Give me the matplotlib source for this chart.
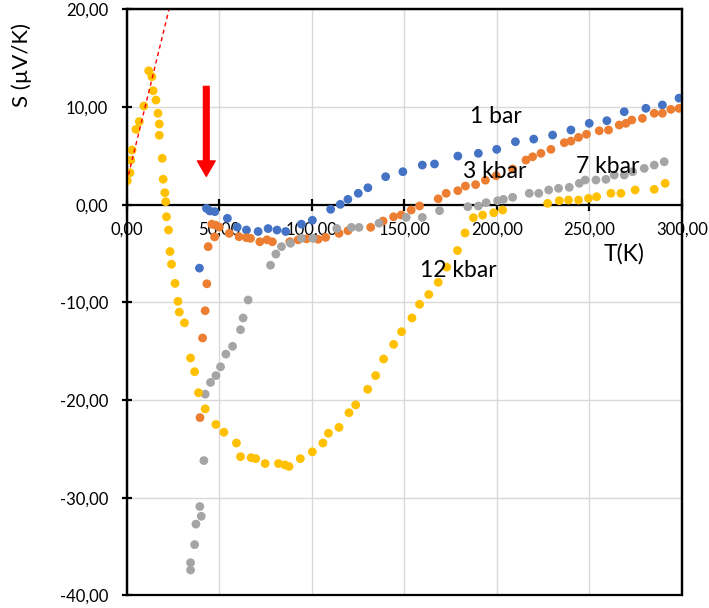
import matplotlib
matplotlib.use("Agg")
import matplotlib.pyplot as plt
from matplotlib.patches import Rectangle, FancyArrowPatch

plt.rcParams['font.family'] = ['Lato', 'DejaVu Sans']

# ---- data (T in K, S in uV/K) ----
t_1bar = [39.3, 43.1, 44.9, 47.6, 54.4, 59.7, 64.7, 71.0, 76.4, 81.2, 85.9, 94.4, 100.3,
          110.2, 115.4, 119.5, 125.1, 130.3, 139.9, 149.2, 159.7, 166.3, 178.9, 190.0,
          199.9, 210.0, 219.9, 230.1, 240.0, 249.9, 259.4, 268.8, 280.5, 289.4, 298.4]
s_1bar = [-6.5, -0.38, -0.65, -0.72, -1.4, -2.3, -2.6, -2.75, -2.45, -2.6, -2.75, -2.0, -1.6,
          -0.48, 0.03, 0.54, 1.16, 1.73, 2.86, 3.37, 4.05, 4.16, 4.97, 5.25,
          5.66, 6.44, 6.71, 7.12, 7.64, 8.32, 8.59, 9.51, 9.86, 10.2, 10.9]

t_3kbar = [39.6, 41.0, 42.4, 43.3, 44.0, 46.0, 48.0, 50.0, 47.5, 55.4, 60.7, 64.7, 66.9,
           71.9, 75.8, 78.7, 88.1, 92.6, 97.1, 103.4, 107.5, 114.7, 119.5, 131.8, 138.5,
           144.2, 148.3, 153.7, 158.2, 168.3, 172.6, 178.9, 183.0, 188.5, 193.8, 199.6,
           208.5, 215.7, 219.3, 223.8, 229.2, 236.4, 240.0, 244.1, 248.4, 255.3, 260.3,
           266.1, 269.7, 272.9, 278.6, 285.0, 289.4, 294.0, 298.4]
s_3kbar = [-21.8, -13.65, -10.86, -8.1, -4.3, -2.0, -2.1, -2.3, -3.3, -2.94, -3.28, -3.39, -3.45,
           -3.8, -3.6, -3.8, -3.8, -3.6, -3.5, -3.55, -3.35, -2.94, -2.67, -2.32, -1.68,
           -1.24, -1.06, -0.55, -0.14, 0.6, 1.16, 1.43, 1.9, 2.05, 2.5, 2.95,
           3.65, 4.56, 4.9, 5.25, 5.66, 6.34, 6.5, 6.88, 7.2, 7.56, 7.64,
           8.15, 8.32, 8.66, 8.83, 9.35, 9.35, 9.75, 9.85]

t_7kbar = [34.5, 34.5, 36.7, 37.4, 40.3, 39.5, 41.7, 42.4, 45.3, 48.2, 50.7, 53.6, 57.2,
           61.5, 62.9, 65.6, 77.7, 80.6, 83.6, 88.5, 94.4, 100.6, 113.5, 121.4, 125.5,
           136.3, 151.0, 159.7, 169.0, 184.3, 190.0, 194.2, 200.4, 203.5, 208.5, 217.5,
           222.6, 228.0, 233.3, 239.1, 244.5, 247.7, 253.5, 258.9, 263.4, 268.8, 273.3,
           279.6, 285.0, 290.4]
s_7kbar = [-37.4, -36.65, -34.8, -32.7, -31.9, -30.9, -26.2, -19.4, -18.2, -17.5, -16.6, -15.3, -14.5,
           -12.8, -11.6, -9.76, -6.2, -5.06, -4.3, -3.96, -3.45, -3.45, -2.44, -2.33, -2.33,
           -1.9, -1.3, -1.3, -0.62, -0.21, -0.14, 0.2, 0.4, 0.54, 0.75, 1.16,
           1.16, 1.5, 1.67, 1.77, 2.18, 2.52, 2.52, 2.59, 3.03, 3.03, 3.37,
           3.71, 4.05, 4.39]

t_12kbar = [0.3, 1.8, 2.2, 2.9, 5.0, 6.8, 9.3, 11.9, 13.6, 14.3, 15.8, 16.9, 17.6, 17.6,
            19.2, 19.7, 20.6, 21.1, 21.5, 22.6, 23.4, 24.2, 26.1, 27.7, 28.4, 31.2, 34.5,
            36.7, 38.8, 42.4, 48.2, 52.5, 59.3, 61.5, 67.2, 69.7, 74.8, 82.0, 85.5, 87.7,
            93.8, 100.3, 106.0, 109.0, 114.7, 120.1, 123.7, 130.2, 134.5, 138.8, 144.2,
            148.5, 154.1, 158.2, 163.2, 168.3, 172.9, 178.7, 182.8, 187.3, 192.3, 198.3,
            203.1, 227.4, 233.7, 238.7, 244.1, 249.5, 253.9, 261.6, 267.0, 274.7, 285.0, 290.9]
s_12kbar = [2.45, 3.27, 4.56, 5.59, 7.7, 8.5, 10.1, 13.7, 13.1, 11.66, 10.7, 9.35, 8.25, 7.1,
            4.74, 2.6, 1.22, 0.3, -1.24, -2.6, -4.8, -6.1, -8.06, -9.9, -11.0, -12.1, -15.7,
            -17.1, -19.25, -20.9, -22.5, -23.3, -24.4, -25.8, -25.9, -26.0, -26.5, -26.5, -26.65, -26.8,
            -26.0, -25.3, -24.4, -23.4, -22.8, -21.3, -20.5, -18.9, -17.5, -15.8, -14.3,
            -13.0, -11.6, -10.2, -9.2, -7.95, -6.4, -4.7, -2.9, -1.34, -1.07, -0.83,
            -0.55, 0.13, 0.4, 0.47, 0.47, 0.64, 0.81, 1.16, 1.16, 1.5, 1.57, 2.18]

fit_t = [0.0, 23.0]
fit_s = [2.3, 20.1]

arrow_t = 43.0
arrow_s = [12.1, 2.9]

x_ticks = [0, 50, 100, 150, 200, 250, 300]
y_ticks = [-40, -30, -20, -10, 0, 10, 20]

series = [
    ("1 bar", t_1bar, s_1bar, "#4472C4"),
    ("3 kbar", t_3kbar, s_3kbar, "#ED7D31"),
    ("7 kbar", t_7kbar, s_7kbar, "#A5A5A5"),
    ("12 kbar", t_12kbar, s_12kbar, "#FFC000"),
]
labels = [("1 bar", 199.6, 9.0), ("3 kbar", 198.6, 3.4), ("7 kbar", 259.8, 3.95),
          ("12 kbar", 179.2, -6.7), ("T(K)", 268.8, -5.0)]


def fmt(v):
    return f"{v:.2f}".replace(".", ",")


fig = plt.figure(figsize=(7.09, 6.08), dpi=100)
ax = fig.add_axes([0.1787, 0.0207, 0.7832, 0.9641])
ax.set_xlim(0, 300)
ax.set_ylim(-40, 20)

ax.set_xticks(x_ticks)
ax.set_yticks(y_ticks)
ax.set_xticklabels([fmt(v) for v in x_ticks])
ax.set_yticklabels([fmt(v) for v in y_ticks])
ax.grid(True, color="#D9D9D9", lw=1.0, zorder=0)
ax.set_axisbelow(True)

for sp in ["top", "right", "left"]:
    ax.spines[sp].set_linewidth(1.6)
    ax.spines[sp].set_color("black")
ax.spines["bottom"].set_position(("data", 0))
ax.spines["bottom"].set_linewidth(1.6)
ax.add_patch(Rectangle((0, 0), 1, 1, transform=ax.transAxes, fill=False,
                       lw=1.6, edgecolor="black", clip_on=False, zorder=5))

ax.tick_params(axis="x", direction="inout", length=8, width=1.6, pad=8, labelsize=12)
ax.tick_params(axis="y", direction="inout", length=7, width=1.6, pad=10, labelsize=12)

for name, t, s, c in series:
    ax.scatter(t, s, s=40, color=c, edgecolors="none", zorder=3)

ax.plot(fit_t, fit_s, color="red", lw=1.0, ls=(0, (3, 2.5)), zorder=4)

arr = FancyArrowPatch((arrow_t, arrow_s[0]), (arrow_t, arrow_s[1]),
                      arrowstyle="simple,head_width=0.75,head_length=0.65,tail_width=0.24",
                      mutation_scale=17, color="red", shrinkA=0, shrinkB=0, zorder=6)
ax.add_patch(arr)

for txt, x, y in labels:
    ax.text(x, y, txt, fontsize=16.5, ha="center", va="center", zorder=7)

fig.text(22 / 709, 1 - 65 / 608, "S (µV/K)", rotation=90, fontsize=16,
         ha="center", va="center")

fig.savefig("out.png", dpi=100)
